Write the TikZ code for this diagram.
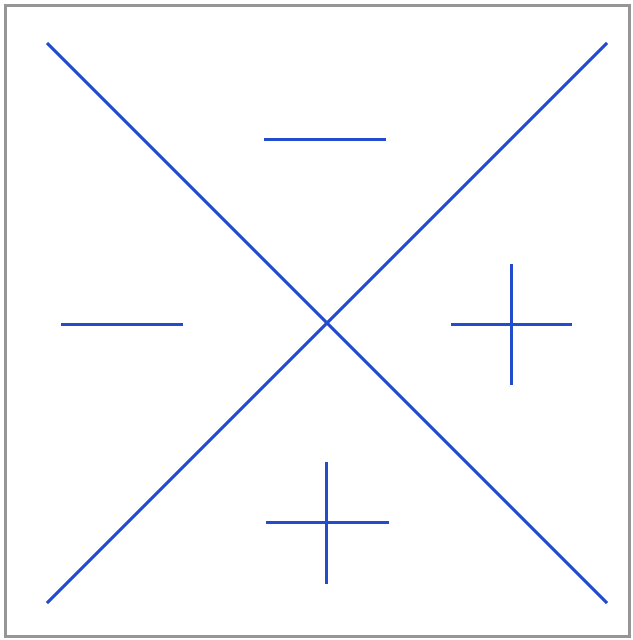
\documentclass[tikz,border=0pt]{standalone}
\definecolor{lineblue}{RGB}{35,75,205}
\definecolor{framegray}{RGB}{150,150,150}
\begin{document}
\begin{tikzpicture}[x=1pt,y=-1pt,
  bluel/.style={draw=lineblue,line width=3pt},
  frm/.style={draw=framegray,line width=3pt}]
\useasboundingbox (0,0) rectangle (632,640);
\fill[white] (0,0) rectangle (632,640);
\draw[frm] (5,5) rectangle (629,636);
% diagonals
\coordinate (tl) at (47,43); \coordinate (br) at (607,603);
\coordinate (bl) at (47,603); \coordinate (tr) at (607,43);
\draw[bluel] (tl) -- (br);
\draw[bluel] (bl) -- (tr);
% minus top
\coordinate (mt1) at (264,139); \coordinate (mt2) at (386,139);
\draw[bluel] (mt1) -- (mt2);
% minus left
\coordinate (ml1) at (61,324); \coordinate (ml2) at (183,324);
\draw[bluel] (ml1) -- (ml2);
% plus right
\coordinate (pr1) at (451,324); \coordinate (pr2) at (572,324);
\coordinate (pr3) at (511,264); \coordinate (pr4) at (511,385);
\draw[bluel] (pr1) -- (pr2);
\draw[bluel] (pr3) -- (pr4);
% plus bottom
\coordinate (pb1) at (266,522); \coordinate (pb2) at (389,522);
\coordinate (pb3) at (326,462); \coordinate (pb4) at (326,584);
\draw[bluel] (pb1) -- (pb2);
\draw[bluel] (pb3) -- (pb4);
\end{tikzpicture}
\end{document}
